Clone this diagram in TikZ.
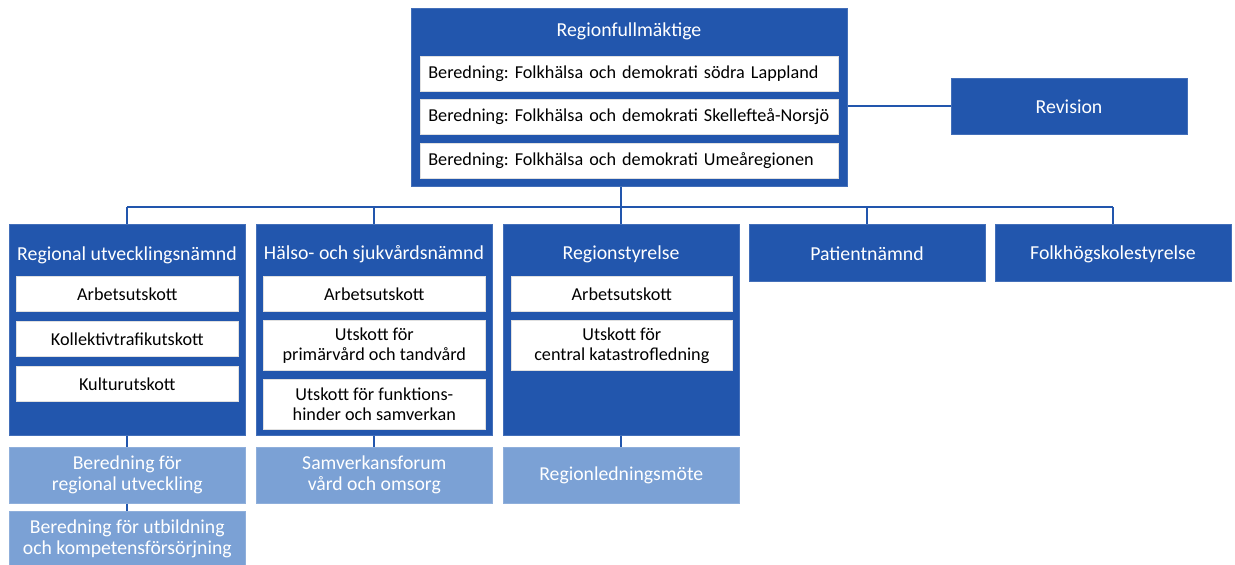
\documentclass[tikz,border=0pt]{standalone}
\usepackage{fontspec}
\setmainfont{Carlito}
\frenchspacing
\definecolor{dblue}{HTML}{2256AD}
\definecolor{lblue}{HTML}{7BA1D5}
\tikzset{
  blue box/.style={draw=dblue!85!white, line width=0.6pt, fill=dblue, inner sep=0pt, anchor=north west},
  light box/.style={draw=lblue!85!white, line width=0.6pt, fill=lblue, text=white, inner sep=0pt, anchor=north west, align=center, font=\fontsize{19.7}{21}\selectfont},
  white box/.style={draw=black!12, line width=0.6pt, fill=white, text=black, inner sep=0pt, anchor=north west, align=center, font=\fontsize{18.2}{20}\selectfont},
  wide box/.style={white box, minimum width=418pt, minimum height=35pt, align=left, text width=402pt},
  title/.style={text=white, font=\fontsize{19.8}{22}\selectfont, inner sep=0pt},
  conn/.style={draw=dblue, line width=2pt},
}
\begin{document}
\begin{tikzpicture}[x=1pt,y=-1pt]
\useasboundingbox (0,0) rectangle (1235,565);
% top
\node[blue box, minimum width=436pt, minimum height=178pt] (rf) at (411,8) {};
\node[title] (rft) at (629,31) {Regionfullmäktige};
\node[wide box] (b1) at (420,56) {Beredning: Folkhälsa och demokrati södra Lappland};
\node[wide box] (b2) at (420,99) {Beredning: Folkhälsa och demokrati Skellefteå-Norsjö};
\node[wide box] (b3) at (420,143) {Beredning: Folkhälsa och demokrati Umeåregionen};
\node[blue box, minimum width=236pt, minimum height=56pt] (rev) at (951,78) {};
\node[title] (revt) at (1069,107) {Revision};
% row
\node[blue box, minimum width=236pt, minimum height=211pt] (run) at (9,224) {};
\node[title] (runt) at (127,255) {Regional utvecklingsnämnd};
\node[white box, minimum width=222pt, minimum height=35pt] (run1) at (16,276) {Arbetsutskott};
\node[white box, minimum width=222pt, minimum height=35pt] (run2) at (16,321) {Kollektivtrafikutskott};
\node[white box, minimum width=222pt, minimum height=35pt] (run3) at (16,366) {Kulturutskott};

\node[blue box, minimum width=236pt, minimum height=211pt] (hsn) at (256,224) {};
\node[title] (hsnt) at (374,254) {Hälso- och sjukvårdsnämnd};
\node[white box, minimum width=222pt, minimum height=35pt] (hsn1) at (263,276) {Arbetsutskott};
\node[white box, minimum width=222pt, minimum height=50pt] (hsn2) at (263,320) {Utskott för\\primärvård och tandvård};
\node[white box, minimum width=222pt, minimum height=50pt] (hsn3) at (263,379) {Utskott för funktions-\\hinder och samverkan};

\node[blue box, minimum width=236pt, minimum height=211pt] (rs) at (503,224) {};
\node[title] (rst) at (621,254) {Regionstyrelse};
\node[white box, minimum width=221pt, minimum height=35pt] (rs1) at (511,276) {Arbetsutskott};
\node[white box, minimum width=221pt, minimum height=50pt] (rs2) at (511,320) {Utskott för\\central katastrofledning};

\node[blue box, minimum width=236pt, minimum height=57pt] (pn) at (749,224) {};
\node[title] (pnt) at (867,254) {Patientnämnd};
\node[blue box, minimum width=236pt, minimum height=57pt] (fhs) at (995,224) {};
\node[title] (fhst) at (1113,254) {Folkhögskolestyrelse};
% lower
\node[light box, minimum width=236pt, minimum height=56pt] (l1) at (9,447) {Beredning för\\regional utveckling};
\node[light box, minimum width=236pt, minimum height=56pt] (l2) at (9,511) {Beredning för utbildning\\och kompetensförsörjning};
\node[light box, minimum width=236pt, minimum height=56pt] (l3) at (256,447) {Samverkansforum\\vård och omsorg};
\node[light box, minimum width=236pt, minimum height=56pt] (l4) at (503,447) {Regionledningsmöte};
% connectors
\coordinate (bus) at (0,207);
\draw[conn] (rs.north) -- (rs.north |- rf.south);
\draw[conn] (run.north |- bus) -- (fhs.north |- bus);
\draw[conn] (run.north |- bus) -- (run.north);
\draw[conn] (hsn.north |- bus) -- (hsn.north);
\draw[conn] (pn.north |- bus) -- (pn.north);
\draw[conn] (fhs.north |- bus) -- (fhs.north);
\draw[conn] (rev.west) -- (rev.west -| rf.east);
\draw[conn] (run.south) -- (l1.north);
\draw[conn] (l1.south) -- (l2.north);
\draw[conn] (hsn.south) -- (l3.north);
\draw[conn] (rs.south) -- (l4.north);
\end{tikzpicture}
\end{document}
